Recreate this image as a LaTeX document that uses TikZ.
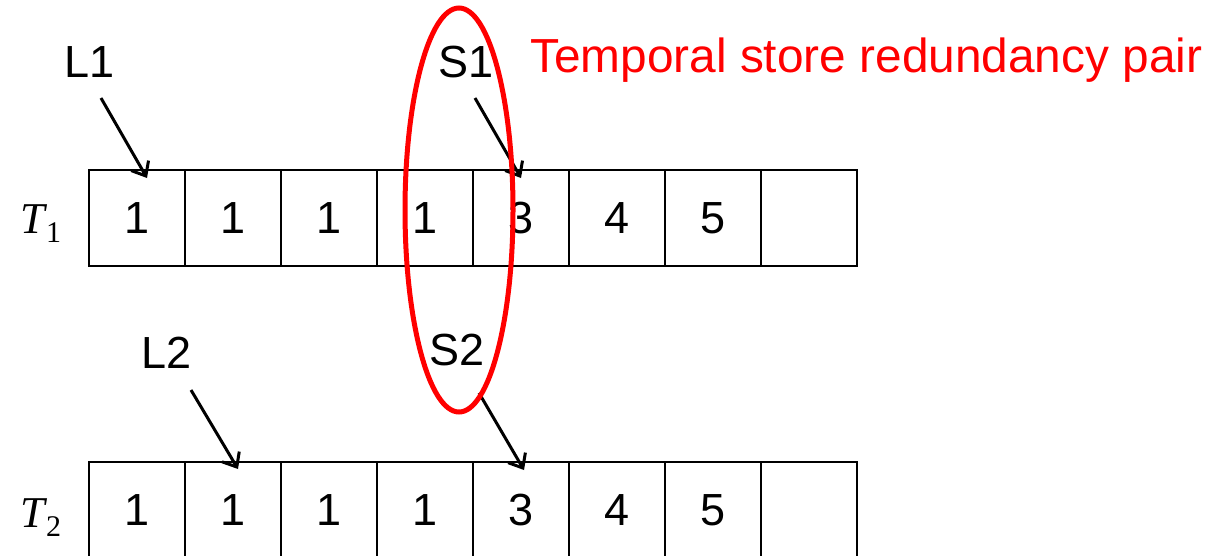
\documentclass[tikz,border=0pt]{standalone}
\usepackage{fontspec}
\setmainfont{Liberation Sans}
\newfontfamily\serifit{Liberation Serif}
\usetikzlibrary{arrows.meta,shapes.geometric}
\newcommand{\rowname}[1]{{\serifit\fontsize{44}{50}\selectfont\itshape T}\kern1pt\raisebox{-9pt}{\serifit\fontsize{30}{34}\selectfont #1}}
\begin{document}
\begin{tikzpicture}[x=1pt,y=-1pt,
  cell/.style={draw, line width=2.5pt, minimum width=96pt, minimum height=96pt, inner sep=0pt, font=\fontsize{45}{54}\selectfont},
  lbl/.style={inner sep=0pt, font=\fontsize{45}{54}\selectfont},
  arr/.style={line width=3pt, -{Straight Barb[length=12pt,width=20pt,line width=3pt]}},
  rowlbl/.style={inner sep=0pt},
  pair/.style={draw=red, line width=5pt, ellipse, inner sep=0pt, minimum width=108pt, minimum height=404pt}]
\useasboundingbox (0,0) rectangle (1215,555);
\foreach \i/\v in {1/1,2/1,3/1,4/1,5/3,6/4,7/5,8/{}}{
  \node[cell] (a\i) at ({89+96*(\i-1)+48},218) {\v};
}
\foreach \i/\v in {1/1,2/1,3/1,4/1,5/3,6/4,7/5,8/{}}{
  \node[cell] (b\i) at ({89+96*(\i-1)+48},510) {\v};
}
\node[rowlbl] (t1) at (41,224) {\rowname{1}};
\node[rowlbl] (t2) at (41,518) {\rowname{2}};
\node[lbl] (L1) at (90,62) {L1};
\node[lbl] (S1) at (466,62) {S1};
\node[lbl] (L2) at (167,353) {L2};
\node[lbl] (S2) at (457,350) {S2};
\coordinate (L1s) at (101,98);
\coordinate (L1e) at (147,178);
\coordinate (S1s) at (475,98);
\coordinate (S1e) at (521,178);
\coordinate (L2s) at (191,390);
\coordinate (L2e) at (238,469);
\coordinate (S2s) at (479,393);
\coordinate (S2e) at (524,470);
\draw[arr] (L1s) -- (L1e);
\draw[arr] (S1s) -- (S1e);
\draw[arr] (L2s) -- (L2e);
\draw[arr] (S2s) -- (S2e);
\node[pair] (ell) at (459,210) {};
\node[inner sep=0pt, text=red, anchor=west, font=\fontsize{47.8}{56}\selectfont] (title) at (530,60) {Temporal store redundancy pair};
\end{tikzpicture}
\end{document}
